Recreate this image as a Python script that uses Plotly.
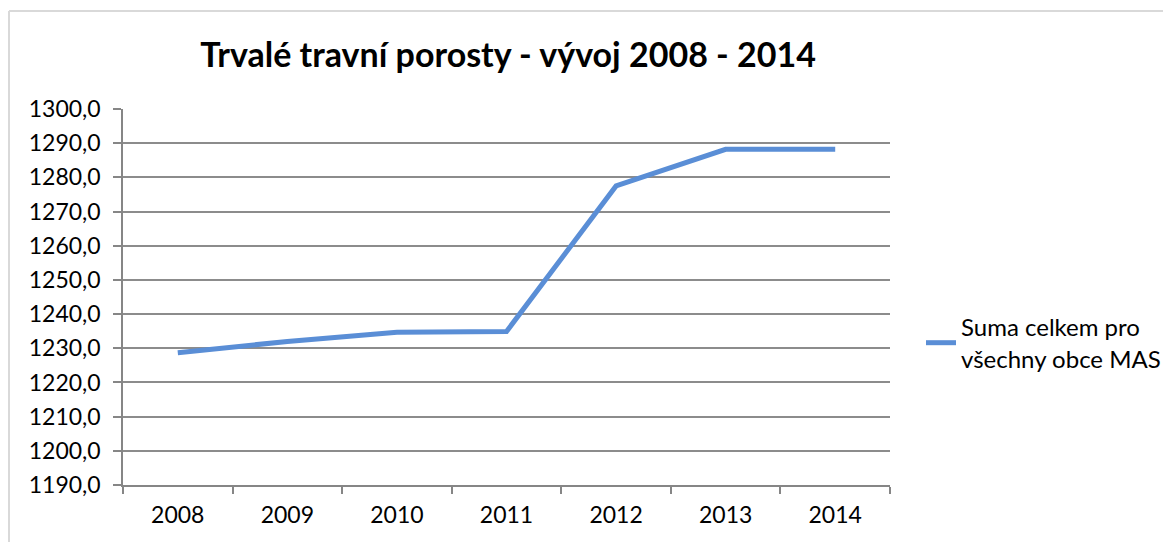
import plotly.graph_objects as go

years = ["2008", "2009", "2010", "2011", "2012", "2013", "2014"]
values = [1228.7, 1232.0, 1234.7, 1234.9, 1277.5, 1288.2, 1288.2]
series_name = "Suma celkem pro<br>všechny obce MAS"
title = "<b>Trvalé travní porosty - vývoj 2008 - 2014</b>"
y_ticks = [1190, 1200, 1210, 1220, 1230, 1240, 1250, 1260, 1270, 1280, 1290, 1300]
y_labels = [f"{v},0" for v in y_ticks]

W, H = 1171, 542
OFF = 8  # page body margin
L, T = 123 - OFF, 109 - OFF
PW, PH = 767, 376
R = W - L - PW
B = H - T - PH

def px(x):
    return (x - OFF - L) / PW

def py(y):
    return (T + PH - (y - OFF)) / PH

fig = go.Figure()
fig.add_trace(go.Scatter(
    x=years, y=values, mode="lines", name=series_name,
    line=dict(color="#5A8ED6", width=5),
))

font = "Lato, 'Open Sans', sans-serif"
fig.update_layout(
    width=W, height=H,
    margin=dict(l=L, r=R, t=T, b=B, autoexpand=False),
    paper_bgcolor="white", plot_bgcolor="white",
    title=dict(text=title, x=(596 - OFF) / W, xanchor="center", xref="paper",
               y=1 - (55 - OFF) / H, yanchor="middle", yref="container",
               font=dict(family=font, size=34, color="black")),
    font=dict(family=font, size=23, color="black"),
    showlegend=True,
    legend=dict(x=px(921), xanchor="left",
                y=py(343), yanchor="middle",
                font=dict(family=font, size=24, color="black"),
                bgcolor="rgba(0,0,0,0)", itemwidth=30),
    xaxis=dict(
        type="category", range=[-0.5, 6.5], tickson="boundaries",
        ticks="outside", ticklen=7, automargin=False,
        tickcolor="#868686", tickwidth=1.5, showline=True, linecolor="#868686",
        linewidth=1.5, showgrid=False, tickfont=dict(size=23),
        ticklabelstandoff=9,
    ),
    yaxis=dict(
        range=[1190, 1300], tickvals=y_ticks, ticktext=y_labels,
        ticks="outside", ticklen=8, tickcolor="#868686", tickwidth=1.5,
        showline=True, linecolor="#868686", linewidth=1.5, automargin=False,
        showgrid=True, gridcolor="#8C8C8C", gridwidth=1.5, zeroline=False,
        tickfont=dict(size=23), ticklabelstandoff=8,
    ),
    shapes=[
        dict(type="line", xref="paper", yref="paper",
             x0=px(OFF + 1), x1=px(W + OFF),
             y0=py(11), y1=py(11),
             line=dict(color="#D9D9D9", width=2)),
        dict(type="line", xref="paper", yref="paper",
             x0=px(OFF + 1), x1=px(OFF + 1),
             y0=py(11), y1=py(H + OFF),
             line=dict(color="#D9D9D9", width=2)),
    ],
)

fig.write_html("out.html")
